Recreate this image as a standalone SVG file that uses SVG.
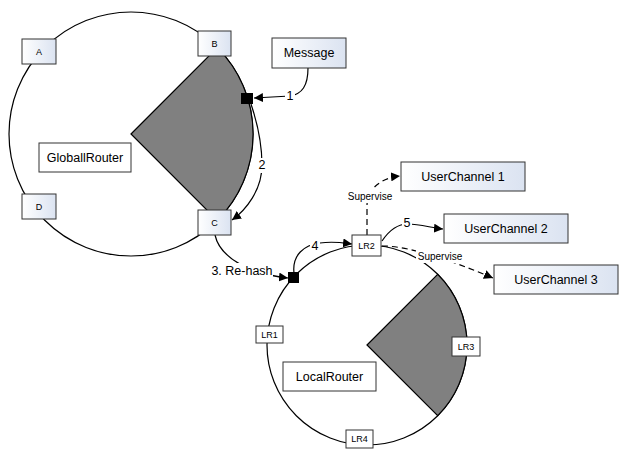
<svg xmlns="http://www.w3.org/2000/svg" width="620" height="450" viewBox="0 0 620 450">
<defs>
<linearGradient id="g" x1="0" y1="0" x2="1" y2="0">
<stop offset="0" stop-color="#ffffff"/>
<stop offset="1" stop-color="#dbe3f1"/>
</linearGradient>
<marker id="ah" viewBox="0 0 10 10" refX="10" refY="5" markerWidth="9" markerHeight="9" markerUnits="userSpaceOnUse" orient="auto">
<path d="M0,0 L10,5 L0,10 Z" fill="#000"/>
</marker>
<style>
text{font-family:"Liberation Sans",Arial,sans-serif;fill:#000;text-anchor:middle;dominant-baseline:central}
.ring{fill:none;stroke:#000;stroke-width:1.2}
.sector{fill:#808080;stroke:#000;stroke-width:1.2}
.gbox{fill:url(#g);stroke:#333;stroke-width:1}
.wbox{fill:#fff;stroke:#333;stroke-width:1}
.c{fill:none;stroke:#000;stroke-width:1.2}
.d{fill:none;stroke:#000;stroke-width:1.2;stroke-dasharray:6 4}
.lbl{fill:#fff;stroke:none}
.s9{font-size:9px}
.s10{font-size:10px}
.s12{font-size:12.5px}
</style>
</defs>
<rect width="620" height="450" fill="#fff"/>

<g id="global-ring">
<circle class="ring" cx="131" cy="134" r="122"/>
<path class="sector" d="M131,134 L217.3,47.7 A122,122 0 0 1 217.3,220.3 Z"/>
</g>
<g id="local-ring">
<circle class="ring" cx="367" cy="345" r="100"/>
<path class="sector" d="M367,345 L437.7,274.3 A100,100 0 0 1 437.7,415.7 Z"/>
</g>

<g id="connectors">
<path class="c" d="M308,68 C308,86 302,94 290,96 L254,98" marker-end="url(#ah)"/>
<path class="c" d="M251,104 C258,125 262,145 262,165 C262,190 246,210 232,220" marker-end="url(#ah)"/>
<path class="c" d="M215,235 C220,258 250,274 288,278" marker-end="url(#ah)"/>
<path class="c" d="M294,273 C292,255 304,245 320,243 C334,241 344,243 352,244" marker-end="url(#ah)"/>
<path class="c" d="M382,241 C388,232 396,224 408,224 C420,224 432,228 443,229" marker-end="url(#ah)"/>
<path class="d" d="M367,235 L367,205 C367,190 380,178 400,176" marker-end="url(#ah)"/>
<path class="d" d="M382,246 C410,246 450,260 493,278" marker-end="url(#ah)"/>
<rect class="lbl" x="285" y="88" width="10" height="15"/>
<text class="s12" x="290" y="96">1</text>
<rect class="lbl" x="257" y="158" width="10" height="15"/>
<text class="s12" x="262" y="165">2</text>
<rect class="lbl" x="212" y="263" width="61" height="16"/>
<text class="s12" x="242" y="271">3. Re-hash</text>
<rect class="lbl" x="310" y="238" width="10" height="15"/>
<text class="s12" x="315" y="246">4</text>
<rect class="lbl" x="402" y="216" width="10" height="15"/>
<text class="s12" x="407" y="223">5</text>
<rect class="lbl" x="346" y="189" width="47" height="14"/>
<text class="s10" x="370" y="196">Supervise</text>
<rect class="lbl" x="416" y="249" width="48" height="14"/>
<text class="s10" x="440" y="256">Supervise</text>
</g>

<g id="n-sq1"><rect x="241" y="93" width="12" height="11" fill="#000"/></g>
<g id="n-sq2"><rect x="288" y="272" width="11" height="11" fill="#000"/></g>

<g id="n-A"><rect class="gbox" x="22" y="39" width="34" height="25"/><text class="s9" x="39" y="51.5">A</text></g>
<g id="n-B"><rect class="gbox" x="198" y="31" width="33" height="25"/><text class="s9" x="214.5" y="43.5">B</text></g>
<g id="n-C"><rect class="gbox" x="198" y="210" width="33" height="25"/><text class="s9" x="214.5" y="222.5">C</text></g>
<g id="n-D"><rect class="gbox" x="22" y="194" width="34" height="25"/><text class="s9" x="39" y="206.5">D</text></g>
<g id="n-global"><rect class="wbox" x="39" y="143" width="92" height="29"/><text class="s12" x="85" y="157.5">GloballRouter</text></g>
<g id="n-message"><rect class="gbox" x="272" y="38" width="74" height="30"/><text class="s12" x="309" y="53">Message</text></g>

<g id="n-LR1"><rect class="wbox" x="256" y="326" width="27" height="17"/><text class="s9" x="269.5" y="334.5">LR1</text></g>
<g id="n-LR2"><rect class="wbox" x="352" y="235" width="29" height="21"/><text class="s9" x="366.5" y="245.5">LR2</text></g>
<g id="n-LR3"><rect class="wbox" x="452" y="337" width="28" height="19"/><text class="s9" x="466" y="346.5">LR3</text></g>
<g id="n-LR4"><rect class="wbox" x="346" y="430" width="27" height="18"/><text class="s9" x="359.5" y="439">LR4</text></g>
<g id="n-local"><rect class="wbox" x="283" y="362" width="93" height="29"/><text class="s12" x="329.5" y="376.5">LocalRouter</text></g>

<g id="n-uc1"><rect class="gbox" x="401" y="162" width="124" height="29"/><text class="s12" x="463" y="176.5">UserChannel 1</text></g>
<g id="n-uc2"><rect class="gbox" x="444" y="214" width="124" height="29"/><text class="s12" x="506" y="228.5">UserChannel 2</text></g>
<g id="n-uc3"><rect class="gbox" x="494" y="265" width="124" height="29"/><text class="s12" x="556" y="279.5">UserChannel 3</text></g>
</svg>
